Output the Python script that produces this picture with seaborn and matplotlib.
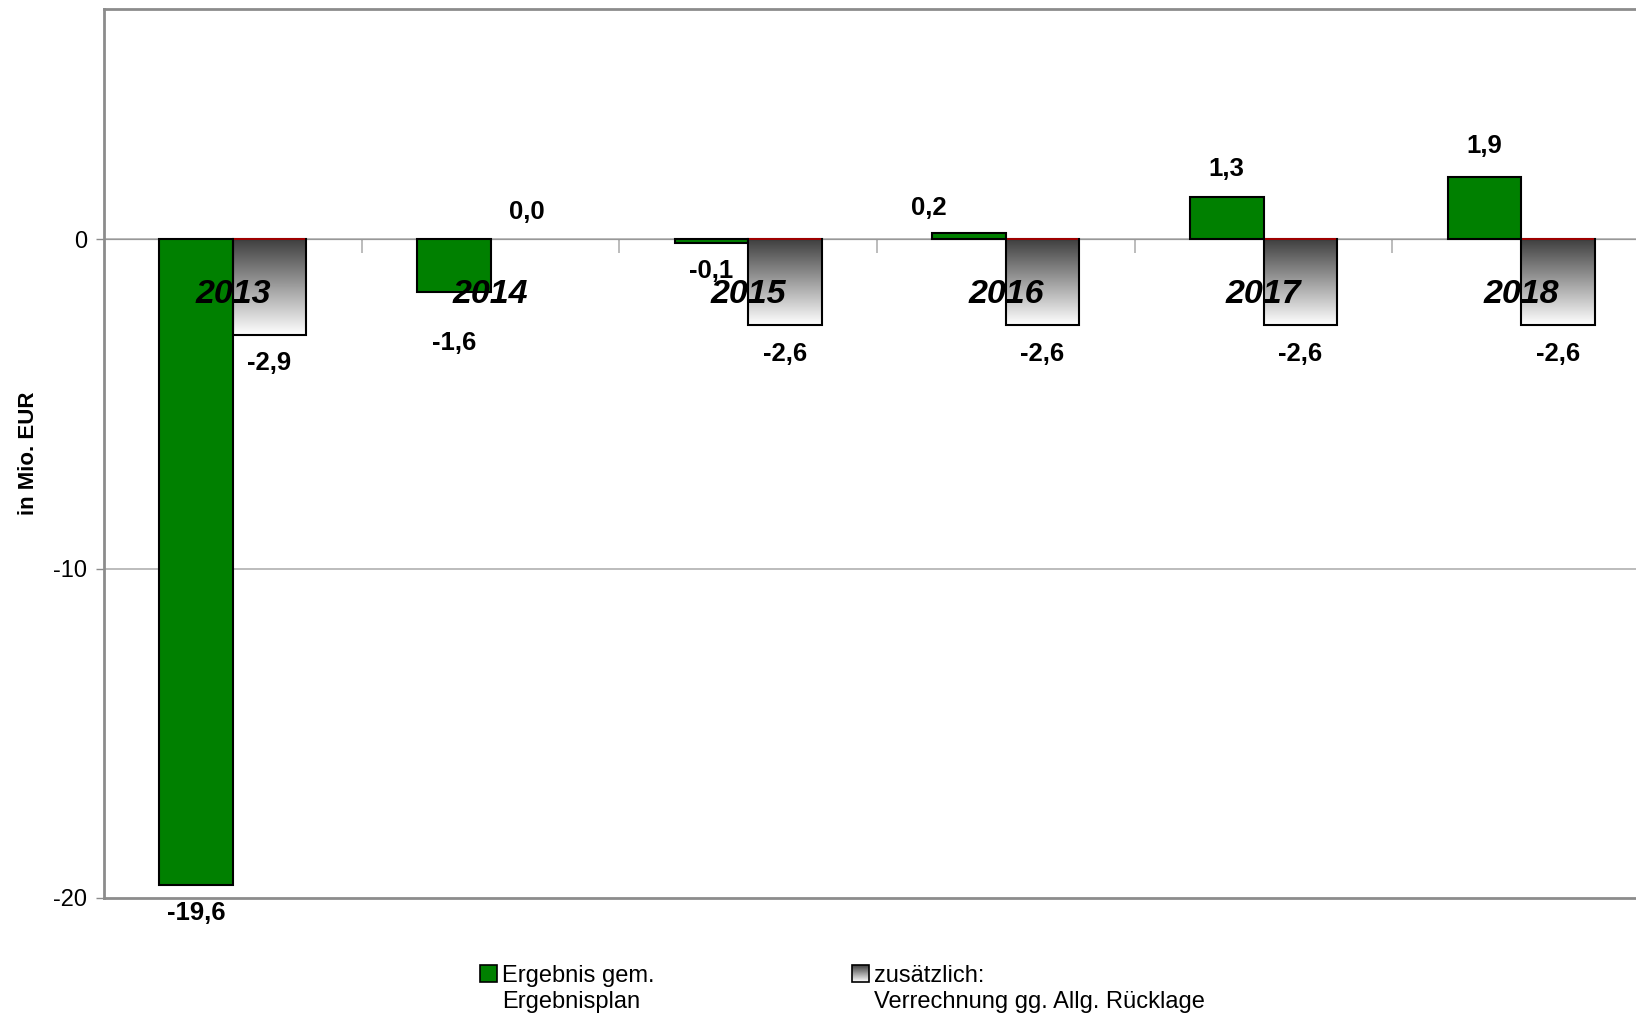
import numpy as np
import pandas as pd
import matplotlib
matplotlib.use("Agg")
import matplotlib.pyplot as plt
import seaborn as sns
from matplotlib.colors import LinearSegmentedColormap
from matplotlib.patches import Patch, Rectangle
from matplotlib.image import BboxImage
from matplotlib.transforms import Bbox, TransformedBbox
from matplotlib.legend_handler import HandlerBase

# data (Mio. EUR)
years = ["2013", "2014", "2015", "2016", "2017", "2018"]
ergebnis = [-19.6, -1.6, -0.1, 0.2, 1.3, 1.9]
verrechnung = [-2.9, 0.0, -2.6, -2.6, -2.6, -2.6]
series = ["Ergebnis gem. Ergebnisplan", "zusätzlich: Verrechnung gg. Allg. Rücklage"]
yticks = [-20, -10, 0]

# label nudges in points (dx, extra dy) for the green series
green_dx = [0, 0, 0, -29, 0, 0]
green_dy = [0, 16, 0, -2, 0, 2]

GREEN = "#008000"
SPINE = "#8c8c8c"
GRID = "#b0b0b0"
gray_cmap = LinearSegmentedColormap.from_list("grad", ["#3f3f3f", "#ffffff"])


class GradientHandler(HandlerBase):
    def create_artists(self, legend, orig_handle, xdescent, ydescent,
                       width, height, fontsize, trans):
        bb = Bbox.from_bounds(-xdescent, -ydescent, width, height)
        img = BboxImage(TransformedBbox(bb, trans), cmap=gray_cmap,
                        interpolation="bilinear", origin="upper")
        img.set_data(np.linspace(0, 1, 64).reshape(-1, 1))
        rect = Rectangle((-xdescent, -ydescent), width, height, fc="none",
                         ec="black", lw=1.2, transform=trans)
        return [img, rect]


def fmt(v):
    return f"{v:.1f}".replace(".", ",")


sns.set_style("white")
plt.rcParams["font.family"] = ["Liberation Sans", "DejaVu Sans"]
plt.rcParams["text.color"] = "black"
plt.rcParams["axes.labelcolor"] = "black"
plt.rcParams["ytick.color"] = "black"
plt.rcParams["xtick.color"] = "black"

df = pd.DataFrame({
    "Jahr": years * 2,
    "Wert": ergebnis + verrechnung,
    "Reihe": [series[0]] * len(years) + [series[1]] * len(years),
})

fig = plt.figure(figsize=(16.36, 10.16), dpi=100)
ax = fig.add_axes([104 / 1636, 1 - 898 / 1016, 1546 / 1636, 889 / 1016])

sns.barplot(data=df, x="Jahr", y="Wert", hue="Reihe", hue_order=series,
            palette=[GREEN, "white"], width=0.57, gap=0, saturation=1,
            edgecolor="black", linewidth=1.5, errorbar=None, legend=False,
            zorder=3, ax=ax)

green_bars, gray_bars = ax.containers[0], ax.containers[1]

# gradient fill on the second series
grad = np.linspace(0, 1, 256).reshape(-1, 1)
for p in gray_bars:
    x0, y0 = p.get_xy()
    w, h = p.get_width(), p.get_height()
    if abs(h) < 1e-9:
        p.set_visible(False)
        continue
    p.set_facecolor("none")
    im = ax.imshow(grad, cmap=gray_cmap, aspect="auto", origin="upper",
                   extent=[x0, x0 + w, min(y0, y0 + h), max(y0, y0 + h)],
                   zorder=2.9, interpolation="bilinear")
    im.set_clip_path(p)
    ax.hlines(y0, x0 + 0.004, x0 + w - 0.004, color="#c00000", lw=1.2, zorder=3.5)

ax.set_xlim(-0.5, len(years) - 0.5)
ax.set_ylim(-20, 7)

# value labels
for i, p in enumerate(green_bars):
    v = ergebnis[i]
    xc = p.get_x() + p.get_width() / 2
    dy = 20 if v >= 0 else -20.5
    dy += green_dy[i] * (1 if v >= 0 else -1)
    ax.annotate(fmt(v), (xc, v), xytext=(green_dx[i], dy), textcoords="offset points",
                ha="center", va="center", fontsize=18.5, fontweight="bold", zorder=5)
for i, p in enumerate(gray_bars):
    v = verrechnung[i]
    xc = p.get_x() + p.get_width() / 2
    dy = 19.5 if v >= 0 else -20.5
    ax.annotate(fmt(v), (xc, v), xytext=(0, dy), textcoords="offset points",
                ha="center", va="center", fontsize=18.5, fontweight="bold", zorder=5)

# category labels sitting just under the zero line
for i, yr in enumerate(years):
    ax.text(i, -1.67, yr, ha="center", va="center", fontsize=24.5,
            fontweight="bold", fontstyle="italic", zorder=6)

# axes styling
ax.set_xlabel("")
ax.set_xticks([])
ax.set_yticks(yticks)
ax.set_yticklabels([str(t) for t in yticks])
ax.tick_params(axis="y", left=True, length=6, width=1, color=SPINE, pad=6,
               labelsize=17, labelcolor="black")
ax.set_ylabel("in Mio. EUR", fontsize=16, fontweight="bold")
ax.yaxis.set_label_coords(-0.042, 0.5)
ax.grid(False)
for y in yticks[1:]:
    ax.axhline(y, color=GRID, lw=1.2, zorder=1)
for side in ["left", "top", "bottom"]:
    ax.spines[side].set_color(SPINE)
    ax.spines[side].set_linewidth(2)
ax.spines["right"].set_visible(False)

# category boundary ticks hanging from the zero line
sec = ax.secondary_xaxis((0 - (-20)) / (7 - (-20)))
sec.set_xticks(np.arange(0.5, len(years) - 0.5, 1))
sec.set_xticklabels([])
sec.tick_params(axis="x", direction="in", length=10, width=1.2, color=GRID)
sec.spines["bottom"].set_visible(False)

# legend below the plot, two blocks
blank = Patch(facecolor="none", edgecolor="none")
leg_kw = dict(loc="upper left", frameon=False, borderpad=0, borderaxespad=0,
              handlelength=0.72, handleheight=0.72, handletextpad=0.2,
              labelspacing=0.18, prop={"family": "Liberation Sans", "size": 17})
fig.legend([Patch(facecolor=GREEN, edgecolor="black", lw=1.2), blank],
           ["Ergebnis gem.", "Ergebnisplan"],
           bbox_to_anchor=(480 / 1636, 1 - 965 / 1016), **leg_kw)
fig.legend(["grad", blank],
           ["zusätzlich:", "Verrechnung gg. Allg. Rücklage"],
           handler_map={str: GradientHandler()},
           bbox_to_anchor=(852 / 1636, 1 - 965 / 1016), **leg_kw)

fig.savefig("out.png", dpi=100)
